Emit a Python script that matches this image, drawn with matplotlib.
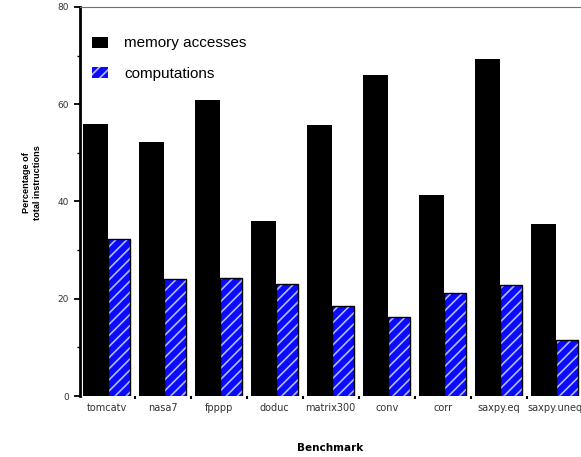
import numpy as np
import matplotlib
matplotlib.use('Agg')
import matplotlib.pyplot as plt

# benchmark mix: share of instructions that touch memory vs. do arithmetic
benchmarks = ['tomcatv', 'nasa7', 'fpppp', 'doduc', 'matrix300',
              'conv', 'corr', 'saxpy.eq', 'saxpy.uneq']
memory_accesses = [55.9, 52.2, 60.9, 36.0, 55.7, 66.0, 41.3, 69.3, 35.4]
computations = [32.3, 24.1, 24.3, 23.0, 18.6, 16.3, 21.1, 22.8, 11.6]

y_ticks = [0, 20, 40, 60, 80]
y_minor = [10, 30, 50, 70]

plt.rcParams['hatch.linewidth'] = 1.2

fig = plt.figure(figsize=(5.81, 4.57), dpi=100)
ax = fig.add_axes([80 / 581, 61 / 457, 501 / 581, 389 / 457])

x = np.arange(len(benchmarks))

# solid black bars, then the blue hatched ones next to them
ax.bar(x + 0.077, memory_accesses, width=0.445, align='edge',
       color='black', label='memory accesses')
ax.bar(x + 0.522, computations, width=0.395, align='edge',
       facecolor='#0a0aff', edgecolor='#b4b8ff', linewidth=0,
       hatch='///', label='computations')
ax.bar(x + 0.522, computations, width=0.395, align='edge',
       fill=False, edgecolor='black', linewidth=1.0)

ax.set_xlim(0.023, 8.97)
ax.set_ylim(0, 80)

ax.set_xticks(x + 0.5)
ax.set_xticklabels(benchmarks, fontsize=7.0, family='DejaVu Sans',
                   color='#333333')
ax.set_xticks(x[1:], minor=True)
ax.tick_params(axis='x', which='major', length=0, pad=5)
ax.tick_params(axis='x', which='minor', length=2.5, width=1.5, direction='out')

ax.set_yticks(y_ticks)
ax.set_yticklabels([str(v) for v in y_ticks], fontsize=6.5, color='#333333')
ax.set_yticks(y_minor, minor=True)
ax.tick_params(axis='y', which='major', length=4, width=1.3, pad=4)
ax.tick_params(axis='y', which='minor', length=2.5, width=1.0)

ax.spines['left'].set_linewidth(2.0)
ax.spines['top'].set_linewidth(0.8)
ax.spines['top'].set_color('#707070')
ax.spines['right'].set_visible(False)
ax.spines['bottom'].set_visible(False)

ax.legend(loc='upper left', bbox_to_anchor=(0.012, 0.94), frameon=False,
          prop={'family': 'Liberation Sans', 'size': 11},
          handlelength=1.05, handleheight=0.72, handletextpad=1.05,
          labelspacing=1.1, borderaxespad=0)

fig.text(32 / 581, 1 - 183 / 457, 'Percentage of\ntotal instructions',
         rotation=90, ha='center', va='center', multialignment='center',
         fontsize=6.6, fontweight='bold', family='Liberation Sans')
fig.text(330 / 581, 1 - 448 / 457, 'Benchmark', ha='center', va='center',
         fontsize=7.5, fontweight='bold', family='DejaVu Sans')

fig.savefig('out.png', dpi=100)
